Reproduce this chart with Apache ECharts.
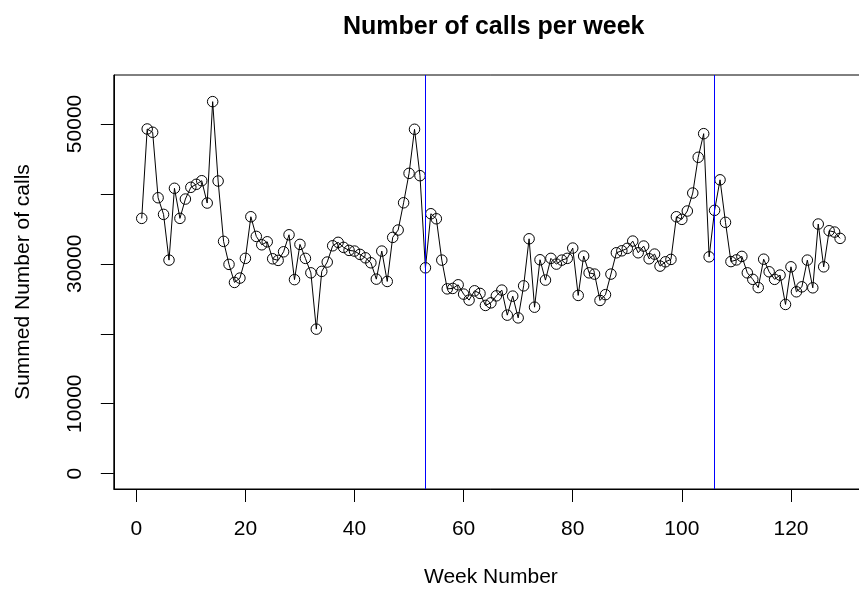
<!DOCTYPE html>
<html>
<head>
<meta charset="utf-8">
<script src="https://cdn.jsdelivr.net/npm/echarts@6.0.0/dist/echarts.min.js"></script>
<style>
html,body{margin:0;padding:0;background:#fff;overflow:hidden;}
#chart{width:880px;height:596px;}
</style>
</head>
<body>
<div id="chart"></div>
<script>
const weeks = [1,2,3,4,5,6,7,8,9,10,11,12,13,14,15,16,17,18,19,20,21,22,23,24,25,26,27,28,29,30,
31,32,33,34,35,36,37,38,39,40,41,42,43,44,45,46,47,48,49,50,51,52,53,54,55,56,57,58,59,60,
61,62,63,64,65,66,67,68,69,70,71,72,73,74,75,76,77,78,79,80,81,82,83,84,85,86,87,88,89,90,
91,92,93,94,95,96,97,98,99,100,101,102,103,104,105,106,107,108,109,110,111,112,113,114,115,116,117,118,119,120,
121,122,123,124,125,126,127,128,129];
const calls = [36500,49280,48810,39450,37070,30530,40800,36500,39260,40940,
41370,41880,38690,53190,41840,33210,29920,27340,27960,30780,
36730,33920,32720,33150,30720,30490,31720,34150,27740,32780,
30780,28710,20660,28920,30250,32580,33070,32350,31920,31820,
31350,30860,30150,27810,31820,27480,33780,34830,38730,42940,
49240,42600,29430,37160,36440,30530,26420,26480,27000,25670,
24810,26140,25770,24050,24420,25420,26240,22660,25380,22270,
26850,33580,23800,30580,27670,30780,29960,30530,30780,32250,
25480,31110,28710,28530,24760,25590,28530,31580,31860,32210,
33250,31580,32540,30720,31390,29670,30290,30630,36730,36360,
37550,40120,45230,48610,31000,37650,42010,35930,30320,30560,
31060,28710,27780,26600,30660,28860,27780,28390,24190,29570,
26000,26710,30530,26570,35690,29570,34730,34540,33640];
const xTicks = [0,20,40,60,80,100,120];
const yTicks = [0,10000,20000,30000,40000,50000];
const yLabels = [0,10000,30000,50000];
const breakWeeks = [53,106];

const FONT = '"Liberation Sans", Arial, Helvetica, sans-serif';
const BLUE = '#0000ff';
function blueLine(){ return {color:BLUE, width:1, type:'solid', opacity:1}; }
const chart = echarts.init(document.getElementById('chart'), null, {renderer:'canvas'});

const breakSeries = breakWeeks.map(function(w, i){
  return {
    name:'break' + i,
    type:'line',
    data:[],
    color:BLUE,
    z:1,
    itemStyle:{color:BLUE},
    lineStyle:blueLine(),
    markLine:{
      silent:true, symbol:['none','none'], label:{show:false},
      itemStyle:{color:BLUE},
      lineStyle:blueLine(),
      emphasis:{disabled:true},
      data:[{xAxis:w, lineStyle:blueLine(), itemStyle:{color:BLUE}}]
    }
  };
});

chart.setOption({
  animation:false,
  backgroundColor:'#fff',
  color:[BLUE, BLUE, '#000'],
  title:{
    text:'Number of calls per week',
    left:338, top:10,
    textStyle:{fontFamily:FONT,fontSize:25,fontWeight:'bold',color:'#000'}
  },
  grid:{left:113.8, top:75, right:12, bottom:107, show:true, borderColor:'#000', borderWidth:1, backgroundColor:'transparent'},
  xAxis:{
    type:'value', min:-4.12, max:134.12,
    axisLine:{show:true, onZero:false, lineStyle:{color:'#000',width:1}},
    axisTick:{show:true, inside:false, length:13, customValues:xTicks, lineStyle:{color:'#000',width:1}},
    axisLabel:{customValues:xTicks, margin:30, fontSize:21, color:'#000', fontFamily:FONT,
      formatter:function(v){return String(v);}},
    splitLine:{show:false},
    name:'Week Number', nameLocation:'middle', nameGap:78,
    nameTextStyle:{fontFamily:FONT,fontSize:21,color:'#000'}
  },
  yAxis:{
    type:'value', min:-2200, max:57000,
    axisLine:{show:true, onZero:false, lineStyle:{color:'#000',width:1}},
    axisTick:{show:true, inside:false, length:13, customValues:yTicks, lineStyle:{color:'#000',width:1}},
    axisLabel:{customValues:yLabels, rotate:90, margin:28, fontSize:21, color:'#000', fontFamily:FONT,
      formatter:function(v){return String(v);}},
    splitLine:{show:false},
    name:'Summed Number of calls', nameLocation:'middle', nameGap:80,
    nameTextStyle:{fontFamily:FONT,fontSize:21,color:'#000'}
  },
  series: breakSeries.concat([{
    name:'calls',
    type:'line',
    z:2,
    data: weeks.map((w,i)=>[w, calls[i]]),
    symbol:'circle', symbolSize:10.5,
    itemStyle:{color:'rgba(0,0,0,0)', borderColor:'#000', borderWidth:1},
    lineStyle:{color:'#000', width:1},
    emphasis:{disabled:true}
  }])
});
</script>
</body>
</html>
